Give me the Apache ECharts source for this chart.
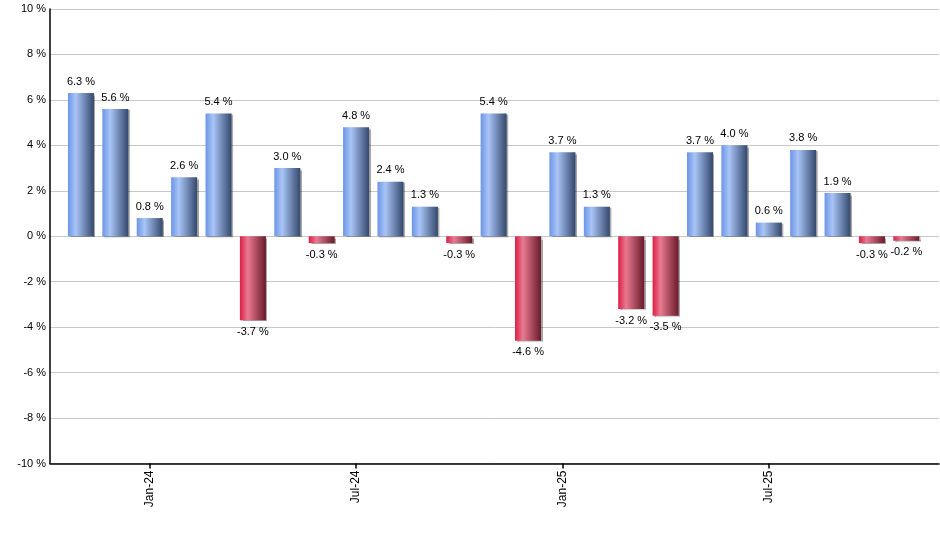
<!DOCTYPE html>
<html>
<head>
<meta charset="utf-8">
<script src="https://cdn.jsdelivr.net/npm/echarts@6/dist/echarts.min.js"></script>
<style>html,body{margin:0;padding:0;background:#fff}#c{width:940px;height:550px}</style>
</head>
<body>
<div id="c"></div>
<script>
var categories = ["Nov-23","Dec-23","Jan-24","Feb-24","Mar-24","Apr-24","May-24","Jun-24","Jul-24","Aug-24","Sep-24","Oct-24","Nov-24","Dec-24","Jan-25","Feb-25","Mar-25","Apr-25","May-25","Jun-25","Jul-25","Aug-25","Sep-25","Oct-25","Nov-25"];
var values = [6.3,5.6,0.8,2.6,5.4,-3.7,3.0,-0.3,4.8,2.4,1.3,-0.3,5.4,-4.6,3.7,1.3,-3.2,-3.5,3.7,4.0,0.6,3.8,1.9,-0.3,-0.2];
var tickLabels = ["Jan-24","Jul-24","Jan-25","Jul-25"];

var tickIdx = tickLabels.map(function(t){return categories.indexOf(t);});
var blueGrad = new echarts.graphic.LinearGradient(0,0,1,0,[
  {offset:0,color:'#6c95e6'},{offset:0.3,color:'#a9c5f7'},{offset:1,color:'#34486c'}]);
var redGrad = new echarts.graphic.LinearGradient(0,0,1,0,[
  {offset:0,color:'#dc1d44'},{offset:0.3,color:'#e97a91'},{offset:1,color:'#6a1a2b'}]);

var data = values.map(function(v,i){
  return {
    value:[i,v],
    itemStyle:{color: v>=0 ? blueGrad : redGrad},
    label:{position: v>=0 ? 'top' : 'bottom'}
  };
});

var chart = echarts.init(document.getElementById('c'));
chart.setOption({
  animation:false,
  backgroundColor:'#fff',
  textStyle:{fontFamily:'Liberation Sans, Arial, sans-serif'},
  grid:{left:50,right:1,top:9,bottom:86.5,containLabel:false},
  xAxis:{
    type:'value', min:-0.9, max:24.95,
    axisLine:{onZero:false,lineStyle:{color:'#000',width:1.5}},
    splitLine:{show:false},
    axisTick:{show:true,customValues:tickIdx,length:5,lineStyle:{color:'#000',width:1.5}},
    axisLabel:{customValues:tickIdx,rotate:90,margin:7,fontSize:12,color:'#000',
      formatter:function(v){return categories[Math.round(v)];}}
  },
  yAxis:{
    type:'value', min:-10, max:10, interval:2,
    axisLine:{show:true,onZero:false,lineStyle:{color:'#000',width:1.5}},
    axisTick:{show:false},
    splitLine:{lineStyle:{color:'#c8c8c8',width:1}},
    axisLabel:{fontSize:11,color:'#000',margin:4,formatter:function(v){return v+' %';}}
  },
  series:[{
    type:'bar',
    barWidth:26,
    data:data,
    itemStyle:{shadowColor:'rgba(0,0,0,0.35)',shadowOffsetX:1.5,shadowOffsetY:1,shadowBlur:1},
    label:{show:true,distance:6,fontSize:11,color:'#000',
      formatter:function(p){return p.value[1].toFixed(1)+' %';}}
  }]
});
</script>
</body>
</html>
